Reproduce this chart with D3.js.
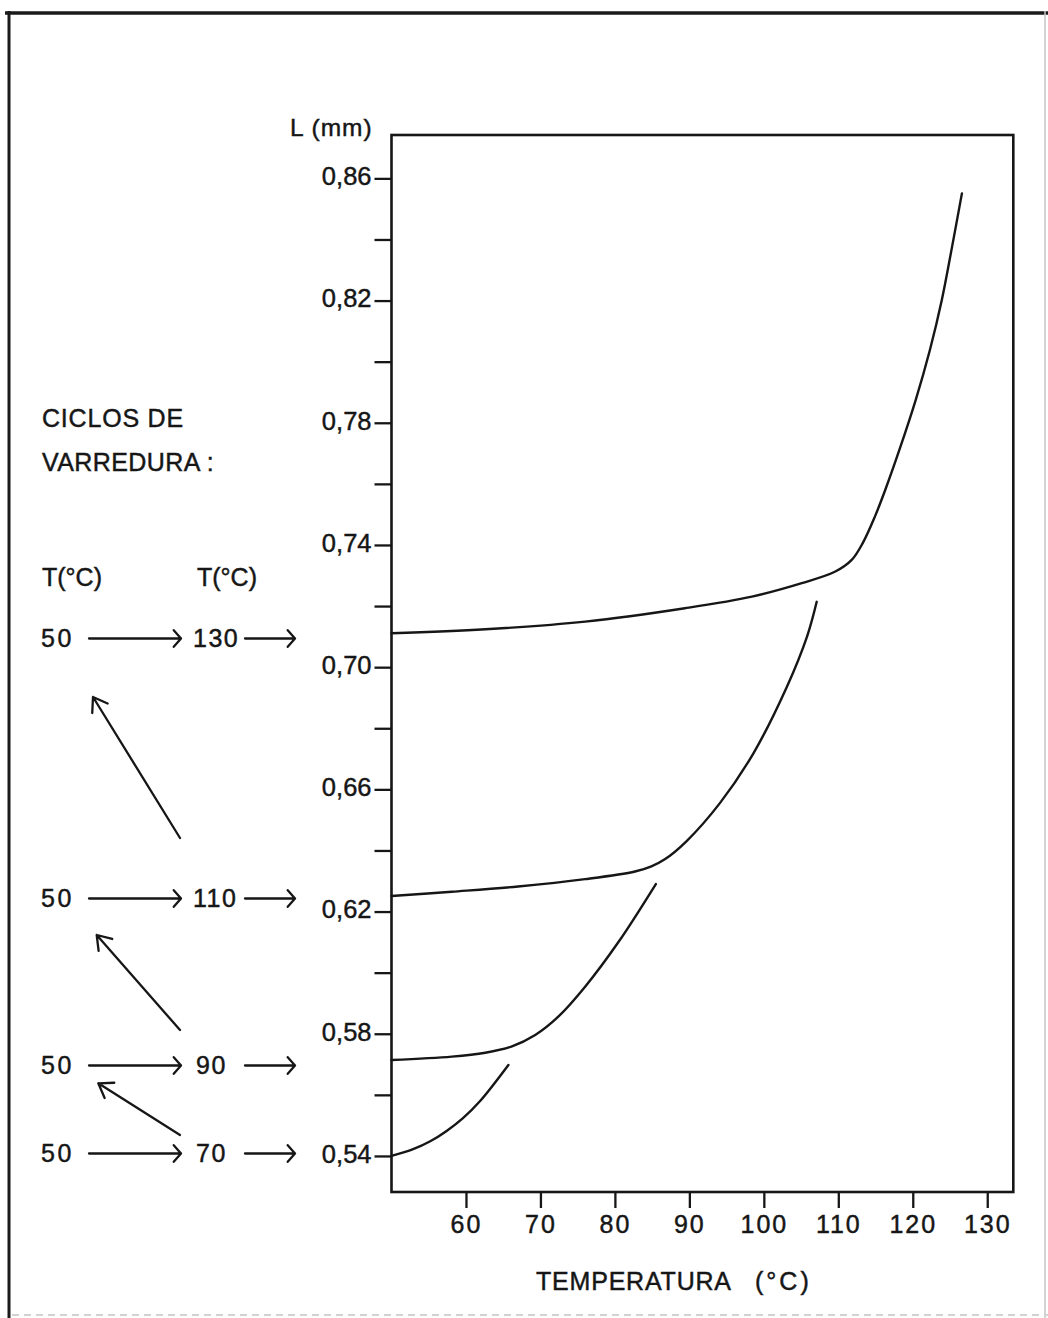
<!DOCTYPE html>
<html>
<head>
<meta charset="utf-8">
<script src="https://cdn.jsdelivr.net/npm/d3@7"></script>
<style>
  body { margin: 0; background: #fff; }
  svg { display: block; }
  text { font-family: "Liberation Sans", Arial, sans-serif; fill: #161616; stroke: #161616; stroke-width: 0.45px; }
</style>
</head>
<body>
<script>
// Sweep cycles: each heating run starts at 50 °C and ends at a maximum temperature
const cycleStartTemp = 50;
const cycleMaxTemps = [130, 110, 90, 70];

// Length L (mm) versus temperature (°C), one curve per sweep cycle
const temp70  = [50, 52.9, 55.2, 57.4, 59.6, 61.9, 65.7];
const len70   = [0.5400, 0.5422, 0.5448, 0.5482, 0.5524, 0.5580, 0.5698];

const temp90  = [50, 58.1, 62.6, 66.1, 69.3, 72.4, 76.0, 80.5, 85.5];
const len90   = [0.5714, 0.5725, 0.5738, 0.5758, 0.5796, 0.5856, 0.5954, 0.6101, 0.6290];

const temp110 = [50, 58.1, 67.0, 76.0, 82.7, 84.9, 86.7, 89.6, 94.1, 98.6, 103.1, 105.8, 107.1];
const len110  = [0.6251, 0.6265, 0.6282, 0.6306, 0.6331, 0.6348, 0.6371, 0.6430, 0.6555, 0.6718, 0.6936, 0.7100, 0.7214];

const temp130 = [50, 62.6, 76.0, 89.4, 98.4, 105.1, 109.6, 111.8, 113.3, 114.9, 116.3, 118.2, 120.4, 122.3, 123.9, 125.2, 126.6];
const len130  = [0.7111, 0.7124, 0.7149, 0.7193, 0.7231, 0.7275, 0.7313, 0.7351, 0.7407, 0.7492, 0.7580, 0.7711, 0.7875, 0.8038, 0.8202, 0.8366, 0.8551];

// Axis ticks
const yMajorTicks = [0.54, 0.58, 0.62, 0.66, 0.70, 0.74, 0.78, 0.82, 0.86];
const yMinorTicks = [0.56, 0.60, 0.64, 0.68, 0.72, 0.76, 0.80, 0.84];
const xTicks = [60, 70, 80, 90, 100, 110, 120, 130];

const W = 1048, H = 1318;
const ink = "#161616";

const svg = d3.select("body").append("svg")
  .attr("width", W).attr("height", H);

// Page border
const border = svg.append("g").attr("fill", "none");
border.append("line").attr("x1", 5).attr("x2", W).attr("y1", 13).attr("y2", 13)
  .attr("stroke", "#1a1a1a").attr("stroke-width", 3.5);
border.append("line").attr("x1", 9).attr("x2", 9).attr("y1", 11).attr("y2", H)
  .attr("stroke", "#1a1a1a").attr("stroke-width", 3);
border.append("line").attr("x1", 1045).attr("x2", 1045).attr("y1", 11).attr("y2", H)
  .attr("stroke", "#c4c4c4").attr("stroke-width", 1.5);
border.append("line").attr("x1", 12).attr("x2", W).attr("y1", 1315).attr("y2", 1315)
  .attr("stroke", "#d2d2d2").attr("stroke-width", 2).attr("stroke-dasharray", "7 5");

// Plot area
const plot = { left: 391.5, right: 1013.3, top: 135, bottom: 1192 };
const x = d3.scaleLinear().domain([50, 133.5]).range([plot.left, plot.right]);
const y = d3.scaleLinear().domain([0.5282, 0.8742]).range([plot.bottom, plot.top]);

svg.append("rect")
  .attr("x", plot.left).attr("y", plot.top)
  .attr("width", plot.right - plot.left).attr("height", plot.bottom - plot.top)
  .attr("fill", "none").attr("stroke", ink).attr("stroke-width", 2.6);

// Y axis: labelled ticks every 0.04, plain ticks between
const yAxis = d3.axisLeft(y)
  .tickValues(yMajorTicks.concat(yMinorTicks))
  .tickSize(17).tickPadding(3)
  .tickFormat(d => yMajorTicks.includes(d) ? d3.format(".2f")(d).replace(".", ",") : "");
const gy = svg.append("g").attr("transform", `translate(${plot.left},0)`).call(yAxis);
gy.select(".domain").remove();
gy.selectAll(".tick line").attr("stroke", ink).attr("stroke-width", 2.3);
gy.selectAll(".tick text")
  .attr("dy", "0.25em")
  .style("font-family", "'Liberation Sans', Arial, sans-serif")
  .style("font-size", "25.5px").attr("fill", ink);

// X axis
const xAxis = d3.axisBottom(x).tickValues(xTicks).tickSize(16).tickPadding(7);
const gx = svg.append("g").attr("transform", `translate(0,${plot.bottom})`).call(xAxis);
gx.select(".domain").remove();
gx.selectAll(".tick line").attr("stroke", ink).attr("stroke-width", 2.3);
gx.selectAll(".tick text")
  .style("font-family", "'Liberation Sans', Arial, sans-serif")
  .style("font-size", "25px").style("letter-spacing", "2px").attr("fill", ink);

// Axis titles
svg.append("text").attr("x", 290).attr("y", 136)
  .style("font-size", "24.5px").style("letter-spacing", "1px").text("L (mm)");
svg.append("text").attr("x", 536).attr("y", 1290)
  .style("font-size", "25px").style("letter-spacing", "0.8px").text("TEMPERATURA");
svg.append("text").attr("x", 755).attr("y", 1290)
  .style("font-size", "25px").style("letter-spacing", "3px").text("(°C)");

// Curves
const line = d3.line()
  .x(d => x(d[0])).y(d => y(d[1]))
  .curve(d3.curveCatmullRom.alpha(0.5));
const series = [
  d3.zip(temp130, len130),
  d3.zip(temp110, len110),
  d3.zip(temp90, len90),
  d3.zip(temp70, len70)
];
svg.append("g").selectAll("path").data(series).join("path")
  .attr("d", line)
  .attr("fill", "none").attr("stroke", ink)
  .attr("stroke-width", 2.4).attr("stroke-linecap", "round");

// Legend: sweep cycles
const legend = svg.append("g");
legend.append("text").attr("x", 42).attr("y", 427)
  .style("font-size", "25px").style("letter-spacing", "0.8px").text("CICLOS DE");
legend.append("text").attr("x", 42).attr("y", 471)
  .style("font-size", "25px").style("letter-spacing", "0.4px").text("VARREDURA :");
legend.append("text").attr("x", 42).attr("y", 586)
  .style("font-size", "25px").text("T(°C)");
legend.append("text").attr("x", 197).attr("y", 586)
  .style("font-size", "25px").text("T(°C)");

function arrow(g, x1, y1, x2, y2, head, spread) {
  const a = Math.atan2(y2 - y1, x2 - x1);
  const p = d3.path();
  p.moveTo(x1, y1); p.lineTo(x2, y2);
  p.moveTo(x2 - head * Math.cos(a - spread), y2 - head * Math.sin(a - spread));
  p.lineTo(x2, y2);
  p.lineTo(x2 - head * Math.cos(a + spread), y2 - head * Math.sin(a + spread));
  g.append("path").attr("d", p.toString())
    .attr("fill", "none").attr("stroke", ink).attr("stroke-width", 2.3)
    .attr("stroke-linecap", "round").attr("stroke-linejoin", "round");
}

const rowBaselines = [647, 907, 1074, 1162];
cycleMaxTemps.forEach((tMax, i) => {
  const yb = rowBaselines[i];
  const ya = yb - 8.5;
  legend.append("text").attr("x", 41).attr("y", yb)
    .style("font-size", "25px").style("letter-spacing", "2.5px").text(cycleStartTemp);
  legend.append("text").attr("x", tMax >= 100 ? 193 : 196).attr("y", yb)
    .style("font-size", "25px").style("letter-spacing", "1.5px").text(tMax);
  arrow(legend, 89, ya, 181, ya, 11, 0.85);
  arrow(legend, 245, ya, 295, ya, 11, 0.85);
});

// Transitions between consecutive cycles
arrow(legend, 180, 838, 93, 697, 16, 0.6);
arrow(legend, 180, 1030, 96.7, 935, 16, 0.6);
arrow(legend, 180, 1135, 98.3, 1083.3, 16, 0.6);
</script>
</body>
</html>
